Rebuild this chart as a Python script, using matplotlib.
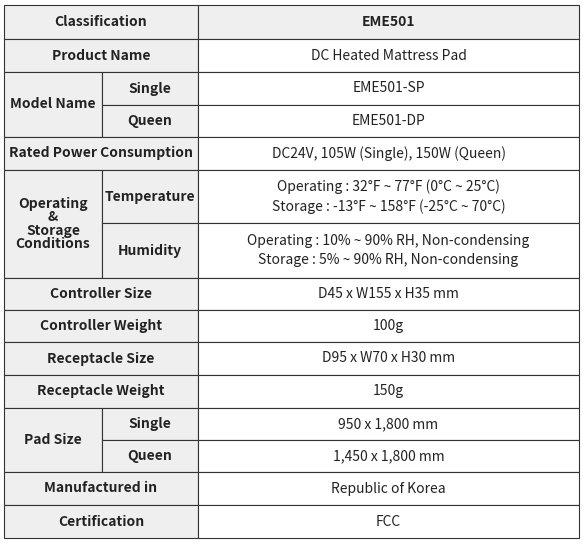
import matplotlib.pyplot as plt
from matplotlib.patches import Rectangle

plt.rcParams['font.family'] = ['Noto Sans CJK KR', 'DejaVu Sans']

# table content: (group label, sub label, value)
groups = ['Classification', 'Product Name', 'Model Name', 'Model Name', 'Rated Power Consumption',
          'Operating\n&\nStorage\nConditions', 'Operating\n&\nStorage\nConditions',
          'Controller Size', 'Controller Weight', 'Receptacle Size', 'Receptacle Weight',
          'Pad Size', 'Pad Size', 'Manufactured in', 'Certification']
subs = [None, None, 'Single', 'Queen', None, 'Temperature', 'Humidity',
        None, None, None, None, 'Single', 'Queen', None, None]
values = ['EME501', 'DC Heated Mattress Pad', 'EME501-SP', 'EME501-DP',
          'DC24V, 105W (Single), 150W (Queen)',
          'Operating : 32°F ~ 77°F (0°C ~ 25°C)\nStorage : -13°F ~ 158°F (-25°C ~ 70°C)',
          'Operating : 10% ~ 90% RH, Non-condensing\nStorage : 5% ~ 90% RH, Non-condensing',
          'D45 x W155 x H35 mm', '100g', 'D95 x W70 x H30 mm', '150g',
          '950 x 1,800 mm', '1,450 x 1,800 mm', 'Republic of Korea', 'FCC']

row_edges = [5, 39, 72, 105, 137, 170, 223, 278, 310, 342, 375, 408, 440, 472, 505, 538]
x0, xs, xv, x1 = 4, 102, 198, 579
gray = '#efefef'
fs = 10

fig = plt.figure(figsize=(5.83, 5.45), dpi=100)
ax = fig.add_axes([0, 0, 1, 1])
ax.set_xlim(0, 583)
ax.set_ylim(545, 0)
ax.axis('off')

def cell(xa, xb, ya, yb, text, bold, bg, ls=1.0):
    ax.add_patch(Rectangle((xa, ya), xb - xa, yb - ya, facecolor=bg, edgecolor='#333333', lw=0.8))
    ax.text((xa + xb) / 2, (ya + yb) / 2, text, ha='center', va='center', fontsize=fs,
            fontweight='bold' if bold else 'normal', color='#222222', linespacing=ls)

n = len(groups)
i = 0
while i < n:
    j = i
    while j + 1 < n and groups[j + 1] == groups[i] and subs[i] is not None:
        j += 1
    ya, yb = row_edges[i], row_edges[j + 1]
    if subs[i] is None:
        cell(x0, xv, ya, yb, groups[i], True, gray)
    else:
        cell(x0, xs, ya, yb, groups[i], True, gray, ls=0.95)
        for k in range(i, j + 1):
            cell(xs, xv, row_edges[k], row_edges[k + 1], subs[k], True, gray)
    for k in range(i, j + 1):
        bold = k == 0
        cell(xv, x1, row_edges[k], row_edges[k + 1], values[k], bold, gray if k == 0 else 'white', ls=1.5)
    i = j + 1

fig.savefig('out.png', dpi=100)
